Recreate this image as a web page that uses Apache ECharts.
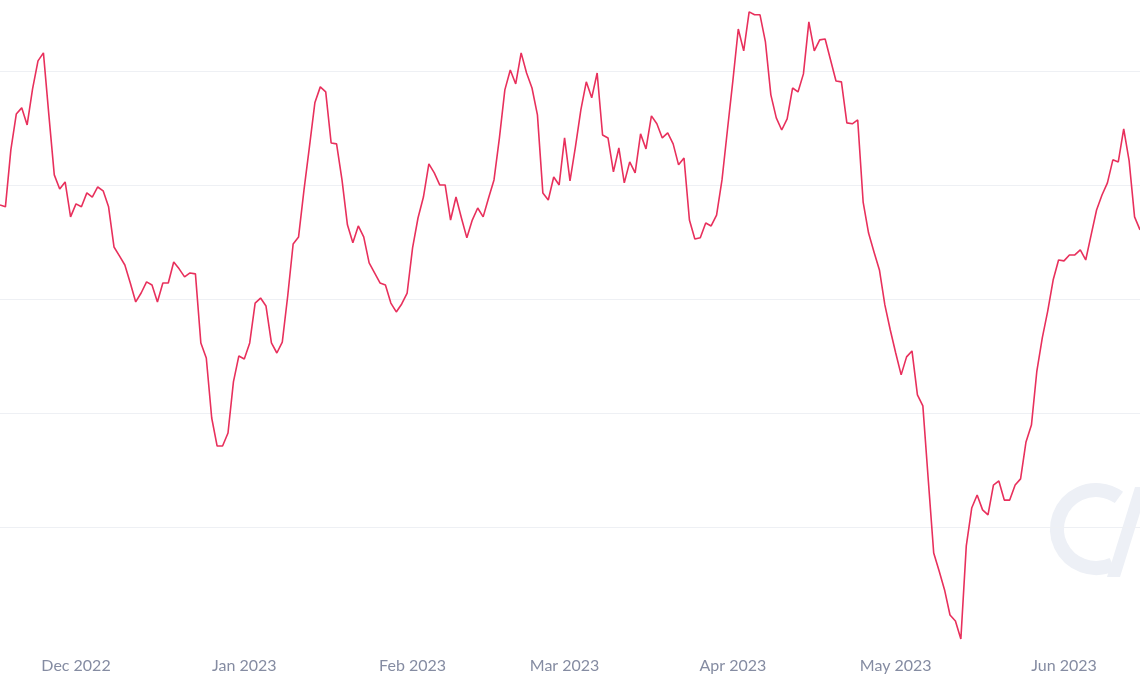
<!DOCTYPE html>
<html>
<head>
<meta charset="utf-8">
<script src="https://cdn.jsdelivr.net/npm/echarts@6/dist/echarts.min.js"></script>
<style>
html,body{margin:0;padding:0;background:#fff;}
#chart{width:1140px;height:694px;}
</style>
</head>
<body>
<div id="chart"></div>
<script>
// Daily dates from 2022-11-17 to 2023-06-15
const startDate = '2022-11-17';
const dayCount = 211;

// Price values (one per day)
const prices = [
0.4412,0.4404,0.4654,0.4811,0.4838,0.4763,0.4921,0.5044,0.5079,0.4807,
0.4544,0.4482,0.4513,0.4360,0.4417,0.4404,0.4465,0.4447,0.4491,0.4474,
0.4404,0.4228,0.4189,0.4149,0.4070,0.3987,0.4026,0.4075,0.4061,0.3987,
0.4070,0.4070,0.4162,0.4132,0.4097,0.4114,0.4110,0.3807,0.3741,0.3478,
0.3355,0.3355,0.3412,0.3636,0.3750,0.3737,0.3807,0.3982,0.4004,0.3969,
0.3807,0.3763,0.3811,0.4013,0.4241,0.4272,0.4478,0.4667,0.4860,0.4930,
0.4908,0.4684,0.4680,0.4522,0.4325,0.4246,0.4320,0.4272,0.4158,0.4114,
0.4070,0.4061,0.3982,0.3943,0.3978,0.4026,0.4224,0.4355,0.4447,0.4592,
0.4553,0.4500,0.4500,0.4346,0.4447,0.4355,0.4268,0.4346,0.4399,0.4360,
0.4443,0.4522,0.4706,0.4917,0.5004,0.4943,0.5079,0.4991,0.4925,0.4807,
0.4465,0.4434,0.4535,0.4500,0.4706,0.4518,0.4667,0.4829,0.4952,0.4882,
0.4991,0.4719,0.4706,0.4557,0.4662,0.4509,0.4601,0.4553,0.4724,0.4658,
0.4803,0.4768,0.4706,0.4728,0.4680,0.4588,0.4618,0.4346,0.4263,0.4268,
0.4333,0.4320,0.4368,0.4522,0.4741,0.4956,0.5184,0.5088,0.5259,0.5246,
0.5246,0.5127,0.4895,0.4794,0.4741,0.4790,0.4925,0.4908,0.4987,0.5215,
0.5088,0.5136,0.5140,0.5048,0.4956,0.4952,0.4772,0.4768,0.4785,0.4425,
0.4289,0.4206,0.4127,0.3974,0.3864,0.3763,0.3667,0.3746,0.3772,0.3579,
0.3531,0.3206,0.2886,0.2807,0.2724,0.2614,0.2588,0.2509,0.2917,0.3083,
0.3140,0.3075,0.3053,0.3184,0.3202,0.3118,0.3118,0.3184,0.3211,0.3373,
0.3447,0.3684,0.3829,0.3947,0.4083,0.4171,0.4167,0.4193,0.4193,0.4215,
0.4171,0.4281,0.4390,0.4456,0.4509,0.4610,0.4601,0.4746,0.4605,0.4360,
0.4303
];

// Axis settings for value scale (gridlines)
const yMin = 0.25;
const yMax = 0.5311;
const yStep = 0.05;

const monthNames = ['Jan','Feb','Mar','Apr','May','Jun','Jul','Aug','Sep','Oct','Nov','Dec'];

const dates = [];
{
  const t0 = Date.parse(startDate + 'T00:00:00Z');
  for (let i = 0; i < dayCount; i++) {
    dates.push(new Date(t0 + i * 86400000).toISOString().slice(0, 10));
  }
}

const chart = echarts.init(document.getElementById('chart'));
chart.setOption({
  animation: false,
  backgroundColor: '#ffffff',
  grid: { left: 0, right: 0, top: 0, bottom: 53, containLabel: false },
  xAxis: {
    type: 'category',
    data: dates,
    boundaryGap: false,
    axisLine: { show: false },
    axisTick: { show: false },
    splitLine: { show: false },
    axisLabel: {
      interval: function (idx, val) { return val.slice(8) === '01'; },
      formatter: function (val) {
        return monthNames[parseInt(val.slice(5, 7), 10) - 1] + ' ' + val.slice(0, 4);
      },
      color: '#858ca2',
      fontFamily: 'Lato',
      fontSize: 16,
      margin: 17
    }
  },
  yAxis: {
    type: 'value',
    min: yMin,
    max: yMax,
    interval: yStep,
    axisLine: { show: false },
    axisTick: { show: false },
    axisLabel: { show: false },
    splitLine: {
      show: true,
      showMinLine: false,
      showMaxLine: false,
      lineStyle: { color: '#eef0f4', width: 1 }
    }
  },
  graphic: [
    {
      type: 'arc',
      silent: true,
      z: 0,
      shape: { cx: 1096, cy: 529, r: 39, startAngle: Math.PI * 0.36, endAngle: Math.PI * 1.70, clockwise: true },
      style: { stroke: '#edf0f6', lineWidth: 14, fill: null }
    },
    {
      type: 'polygon',
      silent: true,
      z: 0,
      shape: { points: [[1107, 577], [1120, 577], [1148, 487], [1135, 487]] },
      style: { fill: '#edf0f6' }
    }
  ],
  series: [{
    type: 'line',
    data: prices,
    showSymbol: false,
    symbol: 'none',
    smooth: false,
    z: 5,
    lineStyle: { color: '#e8305c', width: 1.6 },
    emphasis: { disabled: true }
  }]
});
</script>
</body>
</html>
